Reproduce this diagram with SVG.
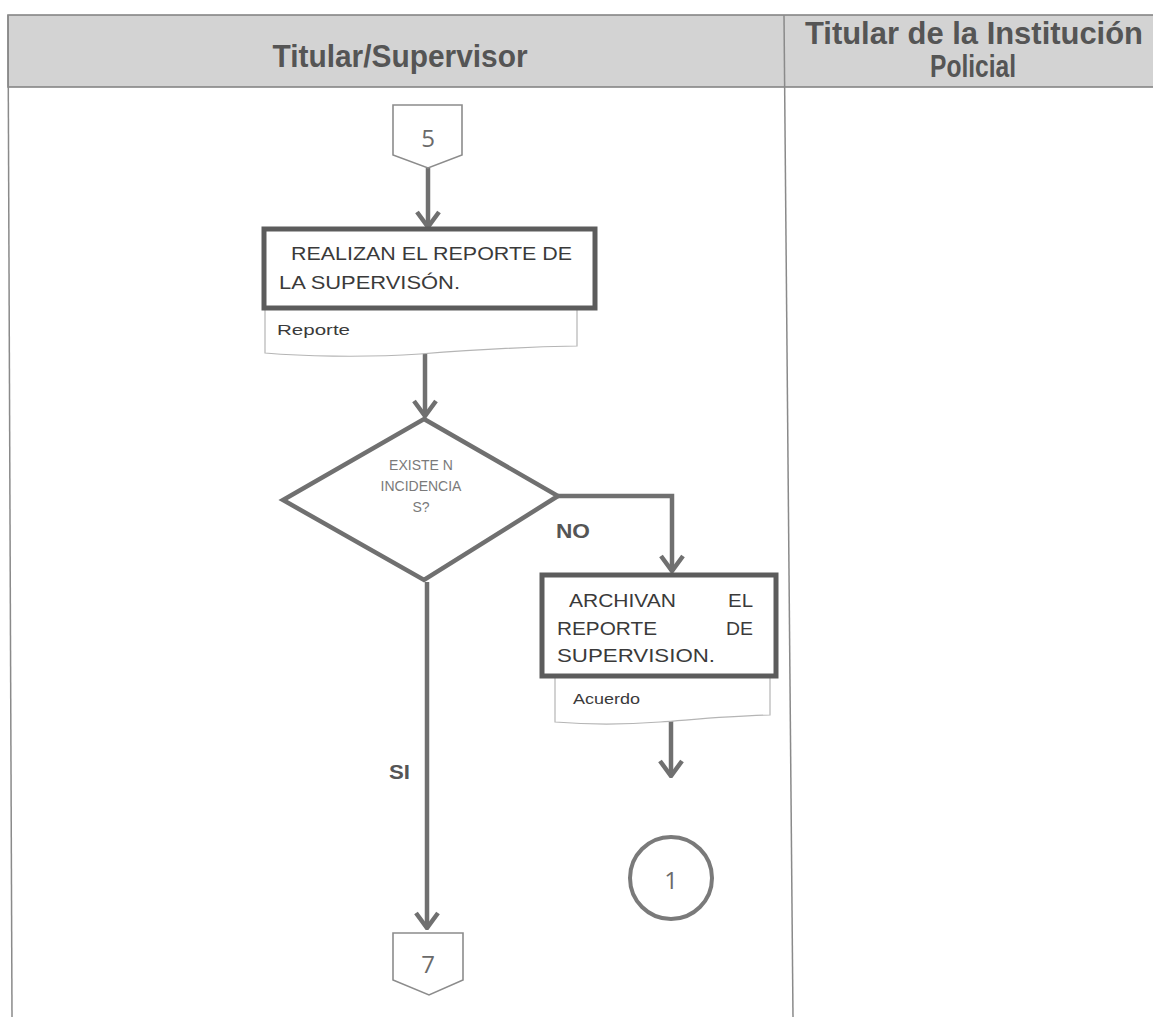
<svg xmlns="http://www.w3.org/2000/svg" width="1153" height="1017" viewBox="0 0 1153 1017">
  <style>
    .lane-head { fill: #d3d3d3; stroke: #858585; stroke-width: 1.6; }
    .lane-line { stroke: #8a8a8a; stroke-width: 1.5; fill: none; }
    .head-text { font-family: "Liberation Sans", Arial, sans-serif; font-weight: bold; font-size: 32px; fill: #555555; text-anchor: middle; }
    .proc { fill: #ffffff; stroke: #5c5c5c; stroke-width: 5; }
    .doc { fill: #ffffff; stroke: #b5b5b5; stroke-width: 1.2; }
    .offpage { fill: #ffffff; stroke: #8c8c8c; stroke-width: 1.6; }
    .decision { fill: #ffffff; stroke: #707070; stroke-width: 4.5; }
    .circle { fill: #ffffff; stroke: #7a7a7a; stroke-width: 4; }
    .flow { stroke: #707070; stroke-width: 4.5; fill: none; }
    .t-proc { font-family: "Liberation Sans", Arial, sans-serif; font-size: 19px; fill: #3a3a3a; }
    .t-doc { font-family: "Liberation Sans", Arial, sans-serif; font-size: 15px; fill: #3a3a3a; }
    .t-dec { font-family: "Liberation Sans", Arial, sans-serif; font-size: 14px; fill: #7a7a7a; text-anchor: middle; }
    .t-num { font-family: "Open Sans", "Liberation Sans", sans-serif; font-size: 24px; fill: #6a6a6a; text-anchor: middle; }
    .t-branch { font-family: "Liberation Sans", Arial, sans-serif; font-weight: bold; font-size: 21px; fill: #555555; }
  </style>
  <defs>
    <marker id="arrow" markerUnits="userSpaceOnUse" viewBox="-18 -13 20 26" markerWidth="20" markerHeight="26" refX="0" refY="0" orient="auto">
      <path d="M-15,-11 L0,0 L-15,11" fill="none" stroke="#707070" stroke-width="4.5" stroke-linejoin="miter"/>
    </marker>
  </defs>

  <rect width="1153" height="1017" fill="#ffffff"/>

  <!-- swimlane frame -->
  <g id="lanes">
    <rect class="lane-head" x="8" y="15" width="1150" height="72"/>
    <line class="lane-line" x1="8" y1="15" x2="12" y2="1017"/>
    <line class="lane-line" x1="784" y1="15" x2="793" y2="1017"/>
    <text class="head-text" x="400" y="67" textLength="255" lengthAdjust="spacingAndGlyphs">Titular/Supervisor</text>
    <text class="head-text" x="974" y="44" textLength="338" lengthAdjust="spacingAndGlyphs">Titular de la Institución</text>
    <text class="head-text" x="973" y="77" textLength="86" lengthAdjust="spacingAndGlyphs">Policial</text>
  </g>

  <!-- connectors -->
  <g id="connectors">
    <line class="flow" x1="428" y1="168" x2="428" y2="227" marker-end="url(#arrow)"/>
    <line class="flow" x1="425" y1="352" x2="425" y2="416" marker-end="url(#arrow)"/>
    <polyline class="flow" points="558,496 672,496 672,571" marker-end="url(#arrow)"/>
    <line class="flow" x1="427" y1="582" x2="427" y2="928" marker-end="url(#arrow)"/>
    <line class="flow" x1="671" y1="720" x2="671" y2="776" marker-end="url(#arrow)"/>
    <text class="t-branch" x="556" y="538" textLength="34" lengthAdjust="spacingAndGlyphs">NO</text>
    <text class="t-branch" x="389" y="779" textLength="21" lengthAdjust="spacingAndGlyphs">SI</text>
  </g>

  <g id="conn-5">
    <polygon class="offpage" points="393,105 462,105 462,155 428,168 393,155"/>
    <text class="t-num" x="428" y="147">5</text>
  </g>

  <g id="reporte-supervision">
    <path class="doc" d="M265,308 L577,308 L577,346 C520,347 470,350 420,354 C360,358 300,356 265,353 Z"/>
    <rect class="proc" x="264" y="229" width="331" height="79"/>
    <text class="t-proc" x="291" y="260" textLength="281" lengthAdjust="spacingAndGlyphs">REALIZAN EL REPORTE DE</text>
    <text class="t-proc" x="279" y="289" textLength="181" lengthAdjust="spacingAndGlyphs">LA SUPERVISÓN.</text>
    <text class="t-doc" x="277" y="335" textLength="73" lengthAdjust="spacingAndGlyphs">Reporte</text>
  </g>

  <g id="existen-incidencias">
    <polygon class="decision" points="424,419 558,496 424,580 283,500"/>
    <text class="t-dec" x="421" y="470">EXISTE N</text>
    <text class="t-dec" x="421" y="491">INCIDENCIA</text>
    <text class="t-dec" x="421" y="512">S?</text>
  </g>

  <g id="archivan-reporte">
    <path class="doc" d="M555,677 L770,677 L770,715 C730,716 700,719 660,722 C620,725 580,724 555,722 Z"/>
    <rect class="proc" x="542" y="575" width="234" height="101"/>
    <text class="t-proc" x="569" y="607" textLength="107" lengthAdjust="spacingAndGlyphs">ARCHIVAN</text>
    <text class="t-proc" x="753" y="607" text-anchor="end" textLength="25" lengthAdjust="spacingAndGlyphs">EL</text>
    <text class="t-proc" x="557" y="635" textLength="100" lengthAdjust="spacingAndGlyphs">REPORTE</text>
    <text class="t-proc" x="753" y="635" text-anchor="end" textLength="27" lengthAdjust="spacingAndGlyphs">DE</text>
    <text class="t-proc" x="557" y="662" textLength="158" lengthAdjust="spacingAndGlyphs">SUPERVISION.</text>
    <text class="t-doc" x="573" y="704" textLength="67" lengthAdjust="spacingAndGlyphs">Acuerdo</text>
  </g>

  <g id="conn-1">
    <circle class="circle" cx="671" cy="878" r="41"/>
    <text class="t-num" x="671" y="889" font-size="22">1</text>
  </g>

  <g id="conn-7">
    <polygon class="offpage" points="393,933 463,933 463,980 429,995 393,980"/>
    <text class="t-num" x="428" y="973" font-size="22">7</text>
  </g>
</svg>
